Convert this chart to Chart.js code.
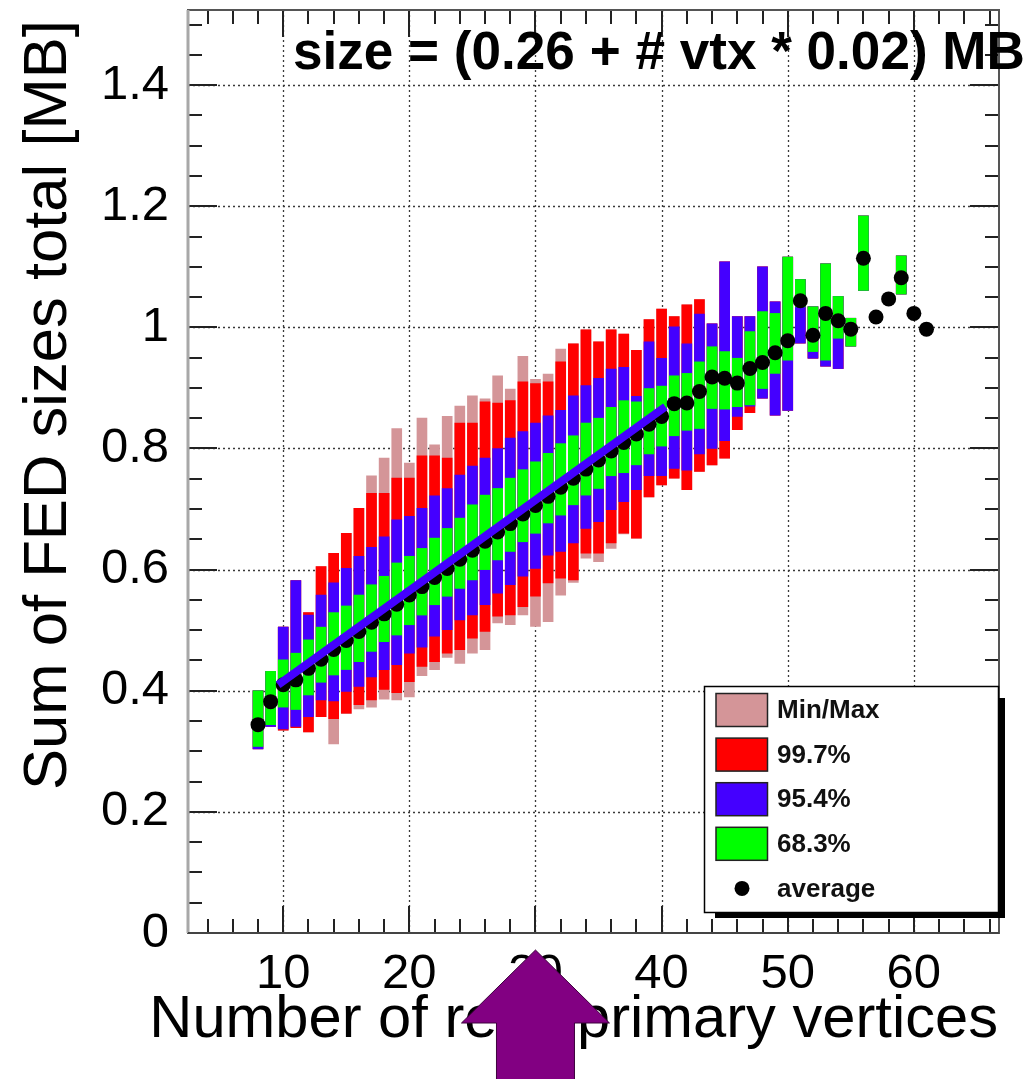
<!DOCTYPE html>
<html><head><meta charset="utf-8">
<script src="https://cdn.jsdelivr.net/npm/chart.js@4.4.1/dist/chart.umd.min.js"></script>
<style>html,body{margin:0;padding:0;background:#fff;}#wrap{width:1032px;height:1079px;position:relative;}</style>
</head><body><div id="wrap"><canvas id="c"></canvas></div>
<script>
// ---------------- data ----------------
const vtx = [8,9,10,11,12,13,14,15,16,17,18,19,20,21,22,23,24,25,26,27,28,29,30,31,32,33,34,35,36,37,38,39,40,41,42,43,44,45,46,47,48,49,50,51,52,53,54,55,56,57,58,59,60,61];
const minVal = [0.304,0.341,0.335,0.339,0.332,0.357,0.312,0.362,0.370,0.373,0.386,0.385,0.390,0.425,0.435,0.455,0.445,0.462,0.468,0.512,0.509,0.525,0.506,0.514,0.558,0.579,0.619,0.613,0.635,0.659,0.652,0.720,0.740,0.751,0.732,0.762,0.773,0.784,0.831,0.859,0.883,0.855,0.863,0.974,0.949,0.936,0.932,0.969,1.061,null,null,1.055,null,null];
const p997Lo = [0.304,0.341,0.335,0.339,0.332,0.357,0.354,0.363,0.377,0.385,0.402,0.397,0.415,0.440,0.448,0.462,0.468,0.487,0.498,0.523,0.525,0.539,0.556,0.578,0.586,0.583,0.627,0.627,0.644,0.660,0.652,0.720,0.740,0.751,0.732,0.762,0.773,0.784,0.831,0.859,0.883,0.855,0.863,0.974,0.949,0.936,0.932,0.969,1.061,null,null,1.055,null,null];
const p954Lo = [0.304,0.341,0.337,0.341,0.357,0.385,0.383,0.399,0.407,0.423,0.435,0.443,0.462,0.472,0.490,0.501,0.517,0.525,0.542,0.561,0.575,0.589,0.602,0.624,0.630,0.644,0.668,0.679,0.699,0.712,0.732,0.755,0.755,0.767,0.764,0.791,0.800,0.813,0.853,0.870,0.883,0.855,0.863,0.974,0.949,0.936,0.932,0.969,1.061,null,null,1.055,null,null];
const p683Lo = [0.308,0.344,0.373,0.369,0.393,0.414,0.426,0.435,0.448,0.465,0.481,0.492,0.509,0.525,0.542,0.556,0.569,0.583,0.600,0.616,0.630,0.646,0.660,0.677,0.690,0.707,0.723,0.734,0.755,0.760,0.773,0.791,0.804,0.821,0.830,0.833,0.866,0.865,0.869,0.872,0.899,0.924,0.946,1.034,0.960,0.946,0.982,0.969,1.061,null,null,1.055,null,null];
const p683Hi = [0.400,0.432,0.451,0.462,0.484,0.505,0.529,0.540,0.558,0.575,0.589,0.611,0.622,0.635,0.652,0.668,0.685,0.707,0.723,0.734,0.751,0.765,0.778,0.792,0.808,0.821,0.842,0.850,0.868,0.879,0.877,0.899,0.903,0.920,0.924,0.943,0.968,0.960,0.949,0.993,1.026,1.023,1.116,1.079,1.034,1.105,1.051,1.015,1.184,null,null,1.118,null,null];
const p954Hi = [0.400,0.432,0.505,0.582,0.525,0.558,0.578,0.602,0.622,0.637,0.654,0.682,0.688,0.701,0.722,0.734,0.756,0.771,0.784,0.800,0.817,0.828,0.842,0.854,0.863,0.887,0.904,0.916,0.931,0.934,0.886,0.976,0.949,1.001,0.973,1.022,1.006,1.108,1.018,1.018,1.100,1.042,1.116,1.079,1.034,1.105,1.051,1.015,1.184,null,null,1.118,null,null];
const p997Hi = [0.400,0.432,0.505,0.582,0.529,0.605,0.627,0.660,0.701,0.726,0.726,0.751,0.751,0.788,0.788,0.784,0.842,0.842,0.877,0.875,0.879,0.910,0.907,0.910,0.943,0.973,0.996,0.976,0.996,0.989,0.962,1.013,1.030,1.018,1.037,1.046,1.006,1.108,1.018,1.018,1.100,1.042,1.116,1.079,1.034,1.105,1.051,1.015,1.184,null,null,1.118,null,null];
const maxVal = [0.400,0.432,0.505,0.582,0.529,0.605,0.627,0.660,0.701,0.755,0.784,0.833,0.776,0.850,0.806,0.853,0.870,0.887,0.882,0.920,0.898,0.952,0.914,0.923,0.964,0.973,0.996,0.976,0.996,0.989,0.962,1.013,1.030,1.018,1.037,1.046,1.006,1.108,1.018,1.018,1.100,1.042,1.116,1.079,1.034,1.105,1.051,1.015,1.184,null,null,1.118,null,null];
const avgVal = [0.344,0.382,0.410,0.418,0.437,0.452,0.468,0.483,0.498,0.513,0.527,0.543,0.558,0.572,0.587,0.602,0.617,0.632,0.647,0.662,0.676,0.692,0.706,0.721,0.736,0.751,0.766,0.781,0.796,0.810,0.824,0.840,0.853,0.874,0.875,0.894,0.918,0.916,0.908,0.932,0.942,0.958,0.978,1.044,0.987,1.023,1.011,0.997,1.114,1.017,1.047,1.082,1.023,0.997];
const fitX = [9.6, 40.3];
const fitY = [0.410, 0.869];
const xTickVals = [10,20,30,40,50,60];
const xTickLabels = ['10','20','30','40','50','60'];
const yTickVals = [0,0.2,0.4,0.6,0.8,1.0,1.2,1.4];
const yTickLabels = ['0','0.2','0.4','0.6','0.8','1','1.2','1.4'];
const seriesLabels = ['Min/Max','99.7%','95.4%','68.3%','average'];
const titleText = 'size = (0.26 + # vtx * 0.02) MB';
const xTitle = 'Number of reco primary vertices';
const yTitle = 'Sum of FED sizes total [MB]';

// ---------------- styling ----------------
const FONT = '"Liberation Sans", Arial, Helvetica, sans-serif';
const C_PINK = '#d49598', C_RED = '#ff0000', C_BLUE = '#4400ff', C_GREEN = '#00ff00';

function band(lo, hi){
  const out = [];
  vtx.forEach((x,i)=>{ if (lo[i]!=null && hi[i]!=null) out.push({x:x, y:[lo[i], hi[i]]}); });
  return out;
}
function fitText(ctx, text, weight, target, base){
  ctx.font = weight + ' ' + base + 'px ' + FONT;
  const w = ctx.measureText(text).width;
  return base * target / w;
}

const deco = {
  id: 'deco',
  beforeDatasetsDraw(chart){
    const ctx = chart.ctx, a = chart.chartArea, xs = chart.scales.x, ys = chart.scales.y;
    ctx.save();
    ctx.strokeStyle = '#3a3a3a'; ctx.lineWidth = 1.3; ctx.setLineDash([2,3]);
    xTickVals.forEach(v=>{ const p = Math.round(xs.getPixelForValue(v))+0.5;
      ctx.beginPath(); ctx.moveTo(p,a.top); ctx.lineTo(p,a.bottom); ctx.stroke(); });
    yTickVals.forEach(v=>{ if (v===0) return; const p = Math.round(ys.getPixelForValue(v))+0.5;
      ctx.beginPath(); ctx.moveTo(a.left,p); ctx.lineTo(a.right,p); ctx.stroke(); });
    ctx.restore();
  },
  afterDatasetsDraw(chart){
    const ctx = chart.ctx, a = chart.chartArea, xs = chart.scales.x, ys = chart.scales.y;
    ctx.save();
    ctx.setLineDash([]);
    ctx.strokeStyle = '#222'; ctx.lineWidth = 2;
    const ln = (x1,y1,x2,y2)=>{ ctx.beginPath(); ctx.moveTo(x1,y1); ctx.lineTo(x2,y2); ctx.stroke(); };
    for (let v = 4; v <= 66; v += 2){
      const p = Math.round(xs.getPixelForValue(v));
      const len = (v % 10 === 0) ? 27 : 14;
      ln(p, a.bottom, p, a.bottom - len);
      ln(p, a.top, p, a.top + len);
    }
    for (let k = 0; k <= 30; k++){
      const v = k * 0.05; if (v > ys.max) break;
      const p = Math.round(ys.getPixelForValue(v));
      const len = (k % 4 === 0) ? 29 : 14;
      ln(a.left, p, a.left + len, p);
      ln(a.right, p, a.right - len, p);
    }
    ctx.strokeStyle = '#555'; ctx.lineWidth = 2;
    ctx.strokeRect(a.left, a.top, a.right - a.left, a.bottom - a.top);
    ctx.strokeStyle = '#a8a8a8'; ctx.lineWidth = 3;
    ln(a.left, a.top, a.left, a.bottom);
    ctx.strokeStyle = '#444'; ctx.lineWidth = 2;
    ln(a.left, a.bottom, a.right, a.bottom);
    ctx.restore();
  },
  afterDraw(chart){
    const ctx = chart.ctx, a = chart.chartArea, xs = chart.scales.x;
    ctx.save();
    ctx.fillStyle = '#000';
    let fs = fitText(ctx, titleText, 'bold', 732, 52);
    ctx.font = 'bold ' + fs + 'px ' + FONT;
    ctx.textAlign = 'left'; ctx.textBaseline = 'alphabetic';
    ctx.fillText(titleText, 293, 69);
    fs = fitText(ctx, yTitle, 'normal', 770, 60);
    ctx.save();
    ctx.translate(66, 405); ctx.rotate(-Math.PI/2);
    ctx.font = fs + 'px ' + FONT; ctx.textAlign = 'center'; ctx.textBaseline = 'alphabetic';
    ctx.fillText(yTitle, 0, 0);
    ctx.restore();
    fs = fitText(ctx, xTitle, 'normal', 849, 60);
    ctx.font = fs + 'px ' + FONT; ctx.textAlign = 'right'; ctx.textBaseline = 'alphabetic';
    ctx.fillText(xTitle, 998, 1037);
    // legend
    const bx = 704.5, by = 686.5, bw = 294, bh = 226;
    ctx.fillStyle = '#000';
    ctx.fillRect(715, 698, 290, 220);
    ctx.fillStyle = '#fff'; ctx.fillRect(bx, by, bw, bh);
    ctx.strokeStyle = '#000'; ctx.lineWidth = 1.5; ctx.strokeRect(bx, by, bw, bh);
    const sw = [C_PINK, C_RED, C_BLUE, C_GREEN];
    ctx.font = 'bold 26px ' + FONT; ctx.textAlign = 'left'; ctx.textBaseline = 'middle';
    for (let i = 0; i < 5; i++){
      const cy = 710 + i * 44.6;
      if (i < 4){
        ctx.fillStyle = sw[i]; ctx.fillRect(716, cy - 16.5, 51.5, 33);
        ctx.strokeStyle = '#222'; ctx.lineWidth = 1.5; ctx.strokeRect(716, cy - 16.5, 51.5, 33);
      } else {
        ctx.fillStyle = '#000'; ctx.beginPath(); ctx.arc(742, cy, 7.5, 0, Math.PI*2); ctx.fill();
      }
      ctx.fillStyle = '#111';
      ctx.fillText(seriesLabels[i], 777, cy + 1);
    }
    // purple arrow anchored at x = 30
    const ax = xs.getPixelForValue(30);
    const tip = a.bottom + 17, hb = a.bottom + 90, bot = chart.height + 2;
    ctx.beginPath();
    ctx.moveTo(ax, tip);
    ctx.lineTo(ax + 74, hb);
    ctx.lineTo(ax + 39, hb);
    ctx.lineTo(ax + 39, bot);
    ctx.lineTo(ax - 39, bot);
    ctx.lineTo(ax - 39, hb);
    ctx.lineTo(ax - 74, hb);
    ctx.closePath();
    ctx.fillStyle = '#820082'; ctx.fill();
    ctx.strokeStyle = '#3d003d'; ctx.lineWidth = 1; ctx.stroke();
    ctx.restore();
  }
};

const barCommon = {type:'bar', grouped:false, barThickness:10, borderWidth:0, borderSkipped:false};

new Chart(document.getElementById('c'), {
  type: 'bar',
  data: {
    datasets: [
      {type:'line', label:'fit', data: fitX.map((x,i)=>({x:x, y:fitY[i]})), borderColor:C_BLUE, borderWidth:8, pointRadius:0, fill:false, order:0, borderCapStyle:'butt'},
      {type:'scatter', label:seriesLabels[4], data: vtx.map((x,i)=>({x:x, y:avgVal[i]})), backgroundColor:'#000', borderColor:'#000', pointRadius:7.5, pointBorderWidth:0, order:1},
      Object.assign({label:seriesLabels[3], data: band(p683Lo, p683Hi), backgroundColor:C_GREEN, order:2}, barCommon),
      Object.assign({label:seriesLabels[2], data: band(p954Lo, p954Hi), backgroundColor:C_BLUE, order:3}, barCommon),
      Object.assign({label:seriesLabels[1], data: band(p997Lo, p997Hi), backgroundColor:C_RED, order:4}, barCommon),
      Object.assign({label:seriesLabels[0], data: band(minVal, maxVal), backgroundColor:C_PINK, order:5}, barCommon)
    ]
  },
  options: {
    responsive: true, maintainAspectRatio: false, devicePixelRatio: 1, animation: false,
    layout: {padding: {left: 0, top: 10, right: 33, bottom: 0}},
    plugins: {legend: {display: false}, tooltip: {enabled: false}, title: {display: false}},
    scales: {
      x: {
        type: 'linear', min: 2.45, max: 66.75, offset: false,
        grid: {display: false, offset: false}, border: {display: false},
        ticks: {font: {family: FONT, size: 49}, color: '#000', padding: 4, maxRotation: 0, autoSkip: false,
          callback: (v) => { const i = xTickVals.indexOf(v); return i >= 0 ? xTickLabels[i] : ''; }},
        afterBuildTicks: (s) => { s.ticks = xTickVals.map(v => ({value: v})); },
        afterFit: (s) => { s.height = 146; s.paddingLeft = 0; s.paddingRight = 0; }
      },
      y: {
        type: 'linear', min: 0, max: 1.524,
        grid: {display: false}, border: {display: false},
        ticks: {font: {family: FONT, size: 49}, color: '#000', padding: 11, autoSkip: false,
          callback: (v) => { const i = yTickVals.findIndex(t => Math.abs(t - v) < 1e-6); return i >= 0 ? yTickLabels[i] : ''; }},
        afterBuildTicks: (s) => { s.ticks = yTickVals.map(v => ({value: v})); },
        afterFit: (s) => { s.width = 188; s.paddingTop = 0; s.paddingBottom = 0; }
      }
    }
  },
  plugins: [deco]
});
</script>
</body></html>
